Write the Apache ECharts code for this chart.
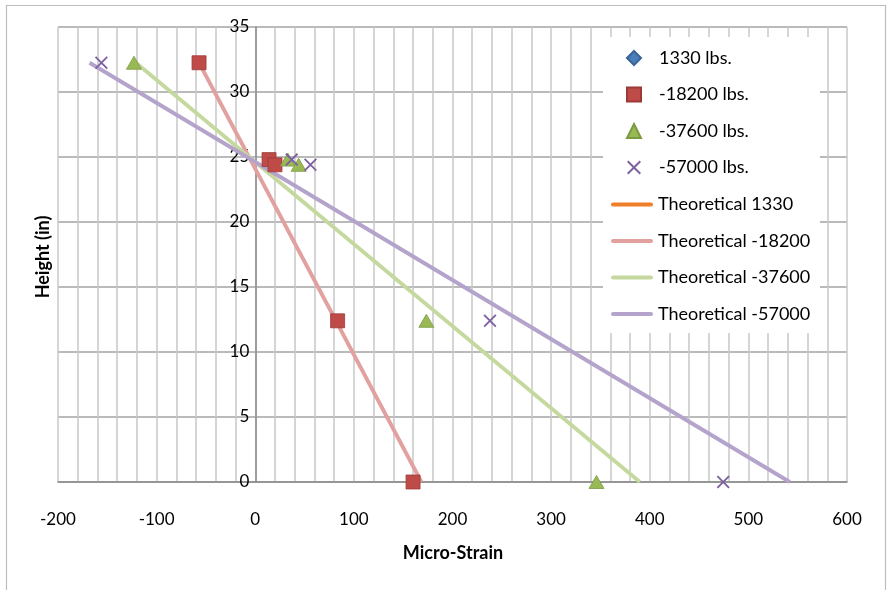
<!DOCTYPE html>
<html>
<head>
<meta charset="utf-8">
<script src="https://cdn.jsdelivr.net/npm/echarts@6/dist/echarts.min.js"></script>
<style>
  html, body { margin: 0; padding: 0; background: #fff; }
  #chart { width: 892px; height: 590px; }
</style>
</head>
<body>
<div id="chart"></div>
<script>
// Gauge heights (in) for the measured strains
const gaugeHeights = [32.25, 24.8, 24.4, 12.4, 0];

// Measured micro-strain at each gauge height, per load case
const strain1330 = [];
const strain18200 = [-57, 14, 20, 83.5, 160];
const strain37600 = [-123, 33, 44, 173.5, 346];
const strain57000 = [-156, 37, 56, 238, 474.5];

// Theoretical strain profiles (top and bottom of section)
const theoHeights = [32.25, 0];
const theo1330 = [];
const theo18200 = [-57, 168.5];
const theo37600 = [-121, 390];
const theo57000 = [-168, 542];

// Axis ranges and tick spacing
const xTicks = { min: -200, max: 600, step: 100 };
const yTicks = { min: 0, max: 35, step: 5 };

const markerNames = ['1330 lbs.', '-18200 lbs.', '-37600 lbs.', '-57000 lbs.'];
const lineNames = ['Theoretical 1330', 'Theoretical -18200', 'Theoretical -37600', 'Theoretical -57000'];

function pairs(xs, ys) {
  return xs.map((x, i) => [x, ys[i]]);
}

const FONT = 'Lato';
const crossPath = 'path://M0,1L1,0L10,9L9,10ZM9,0L10,1L1,10L0,9Z';
const lineIcon = 'path://M2,0H40A2,2 0 0 1 40,4H2A2,2 0 0 1 2,0Z';

// plot area geometry
const gridLeft = 58, gridRight = 45, gridTop = 27, gridBottom = 108;
const plotWidth = 892 - gridLeft - gridRight;
const zeroOffset = plotWidth * (0 - xTicks.min) / (xTicks.max - xTicks.min);

function markerSeries(name, data, symbol, size, color, border) {
  return {
    name: name,
    type: 'scatter',
    data: data,
    symbol: symbol,
    symbolSize: size,
    symbolKeepAspect: true,
    z: 5,
    itemStyle: { color: color, borderColor: border || color, borderWidth: border ? 0.8 : 0, opacity: 1 },
    emphasis: { disabled: true }
  };
}

function lineSeries(name, data, color) {
  return {
    name: name,
    type: 'line',
    data: data,
    symbol: 'none',
    showSymbol: false,
    z: 3,
    lineStyle: { color: color, width: 3.8 },
    itemStyle: { color: color },
    emphasis: { disabled: true }
  };
}

const legendText = { color: '#000', fontSize: 18, fontFamily: FONT, lineHeight: 17 };

const chart = echarts.init(document.getElementById('chart'), null, { renderer: 'canvas' });

chart.setOption({
  animation: false,
  backgroundColor: '#fff',
  textStyle: { fontFamily: FONT },
  grid: { left: gridLeft, right: gridRight, top: gridTop, bottom: gridBottom, containLabel: false },
  xAxis: {
    type: 'value',
    min: xTicks.min, max: xTicks.max, interval: xTicks.step,
    axisLine: { show: true, onZero: false, lineStyle: { color: '#8a8a8a', width: 1.5 } },
    axisTick: { show: false },
    axisLabel: { color: '#000', fontSize: 17, fontFamily: FONT, margin: 29 },
    splitLine: { show: true, lineStyle: { color: '#c8c8c8', width: 1.5 } },
    minorTick: { show: false, splitNumber: 5 },
    minorSplitLine: { show: true, lineStyle: { color: '#c8c8c8', width: 1.5 } }
  },
  yAxis: {
    type: 'value',
    position: 'left',
    offset: -zeroOffset,
    min: yTicks.min, max: yTicks.max, interval: yTicks.step,
    axisLine: { show: true, onZero: false, lineStyle: { color: '#8a8a8a', width: 1.5 } },
    axisTick: { show: false },
    axisLabel: { color: '#000', fontSize: 17, fontFamily: FONT, margin: 6 },
    splitLine: { show: true, lineStyle: { color: '#a3a3a3', width: 1.5 } }
  },
  legend: [
    {
      orient: 'vertical',
      left: 626, top: 49,
      padding: 0,
      z: 10,
      itemWidth: 14, itemHeight: 14, itemGap: 18.5,
      selectedMode: false,
      data: markerNames,
      textStyle: Object.assign({ padding: [0, 0, 0, 13] }, legendText)
    },
    {
      orient: 'vertical',
      left: 611, top: 195.5,
      padding: 0,
      z: 10,
      itemWidth: 42, itemHeight: 14, itemGap: 18.5,
      selectedMode: false,
      icon: lineIcon,
      data: lineNames,
      textStyle: legendText
    }
  ],
  graphic: [
    {
      type: 'rect', silent: true, z: -1,
      shape: { x: 6.5, y: 5.5, width: 879, height: 600 },
      style: { fill: 'none', stroke: '#bdbdbd', lineWidth: 1.2 }
    },
    {
      type: 'rect', silent: true, z: 8,
      shape: { x: 603, y: 37, width: 217, height: 296 },
      style: { fill: '#fff' }
    },
    {
      type: 'text', silent: true,
      x: 453, y: 553,
      style: { text: 'Micro-Strain', font: 'bold 18px ' + FONT, fill: '#000', align: 'center', verticalAlign: 'middle' }
    },
    {
      type: 'text', silent: true,
      x: 43, y: 257, rotation: Math.PI / 2,
      style: { text: 'Height (in)', font: 'bold 18px ' + FONT, fill: '#000', align: 'center', verticalAlign: 'middle' }
    }
  ],
  series: [
    markerSeries(markerNames[0], pairs(strain1330, gaugeHeights), 'diamond', 13, '#4a7ebb', '#3a6496'),
    markerSeries(markerNames[1], pairs(strain18200, gaugeHeights), 'rect', 14, '#be4b48', '#9c3a37'),
    markerSeries(markerNames[2], pairs(strain37600, gaugeHeights), 'triangle', [15, 13], '#98b954', '#7c9a42'),
    markerSeries(markerNames[3], pairs(strain57000, gaugeHeights), crossPath, 13, '#7d60a0', null),
    lineSeries(lineNames[0], pairs(theo1330, theoHeights), '#f07f2a'),
    lineSeries(lineNames[1], pairs(theo18200, theoHeights), '#e2a09e'),
    lineSeries(lineNames[2], pairs(theo37600, theoHeights), '#c5d99e'),
    lineSeries(lineNames[3], pairs(theo57000, theoHeights), '#b4a4cc')
  ]
});
</script>
</body>
</html>
